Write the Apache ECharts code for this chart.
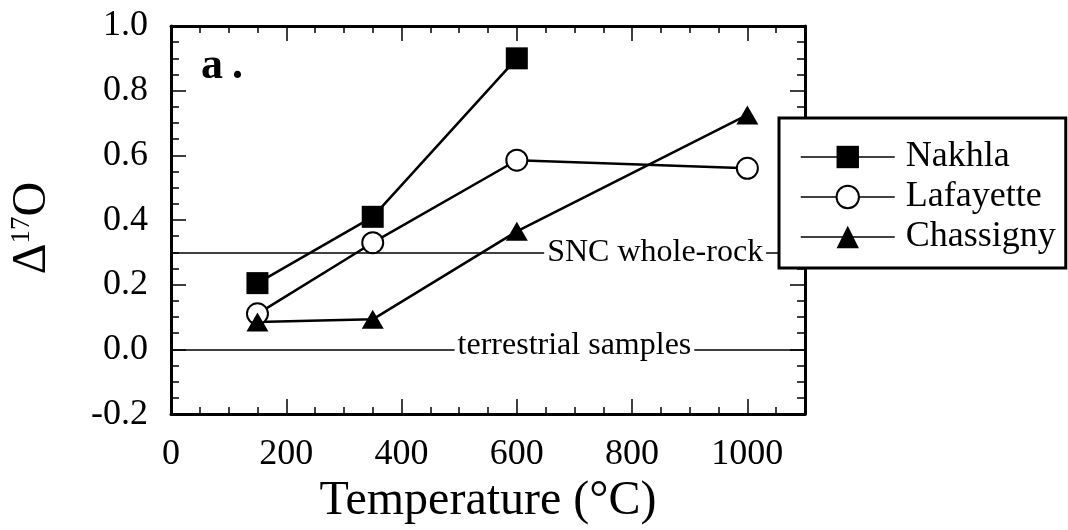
<!DOCTYPE html>
<html><head><meta charset="utf-8">
<script src="https://cdn.jsdelivr.net/npm/echarts@6/dist/echarts.min.js"></script>
<style>html,body{margin:0;padding:0;background:#fff}#c{width:1068px;height:530px}</style>
</head><body><div id="c"></div>
<script>
// ---- data ----
const temps = [150, 350, 600, 1000];
const nakhla = [0.205, 0.41, 0.90];
const lafayette = [0.11, 0.33, 0.585, 0.56];
const chassigny = [0.085, 0.093, 0.365, 0.725];
const seriesNames = ['Nakhla', 'Lafayette', 'Chassigny'];
const refLines = [0.3, 0.0];
const refLabels = ['SNC whole-rock', 'terrestrial samples'];
const refLabelX = [840, 700];
const xTickValues = [0, 200, 400, 600, 800, 1000];
const yTickLabels = ['-0.2', '0.0', '0.2', '0.4', '0.6', '0.8', '1.0'];

const F = '"Liberation Serif","Times New Roman",serif';
const pair = (xs, ys) => ys.map((y, i) => [xs[i], y]);
const BLACK = '#000';

function xAx(pos, interval, len, line, extra) {
  return Object.assign({
    type: 'value', position: pos, min: 0, max: 1100, interval: interval,
    axisLine: { show: line, onZero: false, lineStyle: { color: BLACK, width: 3 } },
    axisTick: { show: true, inside: true, length: len, lineStyle: { color: BLACK, width: 1.5 } },
    axisLabel: { show: false },
    splitLine: { show: false }
  }, extra || {});
}
function yAx(pos, interval, len, line, extra) {
  return Object.assign({
    type: 'value', position: pos, min: -0.2, max: 1.0, interval: interval,
    axisLine: { show: line, onZero: false, lineStyle: { color: BLACK, width: 3 } },
    axisTick: { show: true, inside: true, length: len, lineStyle: { color: BLACK, width: 1.5 } },
    axisLabel: { show: false },
    splitLine: { show: false }
  }, extra || {});
}

const chart = echarts.init(document.getElementById('c'), null, { renderer: 'canvas' });
const option = {
  animation: false,
  backgroundColor: '#fff',
  grid: { left: 168, top: 26, right: 263, bottom: 115 },
  xAxis: [
    xAx('bottom', 200, 15, true, {
      axisLabel: { show: true, margin: 22, fontFamily: F, fontSize: 36, color: BLACK,
        formatter: v => (xTickValues.indexOf(v) >= 0 ? String(v) : '') },
      name: 'Temperature (°C)', nameLocation: 'middle', nameGap: 52,
      nameTextStyle: { fontFamily: F, fontSize: 48, color: BLACK }
    }),
    xAx('bottom', 50, 7, false),
    xAx('top', 200, 15, true),
    xAx('top', 50, 7, false)
  ],
  yAxis: [
    yAx('left', 0.2, 15, true, {
      axisLabel: { show: true, margin: 23, fontFamily: F, fontSize: 36, color: BLACK, padding: [0, 0, 10, 0],
        formatter: v => { const i = Math.round((v + 0.2) / 0.2); return yTickLabels[i] || ''; } },
      name: '{d|Δ}{s|17}{o|O}', nameLocation: 'middle', nameRotate: 90, nameGap: 115,
      nameTextStyle: { fontFamily: F, color: BLACK, padding: [0, 16, 0, 0],
        rich: {
          d: { fontFamily: F, fontSize: 48, color: BLACK, lineHeight: 48 },
          s: { fontFamily: F, fontSize: 27, color: BLACK, verticalAlign: 'top', lineHeight: 30 },
          o: { fontFamily: F, fontSize: 48, color: BLACK, lineHeight: 48 }
        } }
    }),
    yAx('left', 0.05, 8, false),
    yAx('right', 0.2, 15, true),
    yAx('right', 0.05, 8, false)
  ],
  legend: {
    orient: 'vertical', left: 779, top: 118, padding: [21, 10, 13, 21],
    backgroundColor: '#fff', borderColor: BLACK, borderWidth: 3,
    itemWidth: 94, itemHeight: 28, itemGap: 4, z: 10,
    textStyle: { fontFamily: F, fontSize: 36, color: BLACK, lineHeight: 36, padding: [0, 0, 0, 6] },
    lineStyle: { width: 1.5, color: BLACK },
    data: seriesNames
  },
  graphic: [{
    type: 'text', left: 201, top: 45, z: 10,
    style: { text: '{a|a}{p|.}', rich: {
      a: { fontFamily: F, fontWeight: 'bold', fontSize: 44, fill: BLACK },
      p: { fontFamily: F, fontWeight: 'bold', fontSize: 44, fill: BLACK, padding: [0, 0, 0, 9] }
    } }
  }],
  series: [
    { name: 'ref', type: 'line', data: [], xAxisIndex: 0, yAxisIndex: 0, z: 1,
      markLine: { silent: true, symbol: 'none', label: { show: false },
        lineStyle: { color: BLACK, width: 1.5, type: 'solid' },
        data: refLines.map(v => ({ yAxis: v })) },
      markPoint: { silent: true, symbol: 'circle', symbolSize: 0,
        label: { show: true, position: 'inside', formatter: p => p.name, fontFamily: F, fontSize: 32, color: BLACK,
          backgroundColor: '#fff', padding: [0, 3] },
        data: refLabels.map((t, i) => ({ name: t, coord: [refLabelX[i], refLines[i]],
          label: { offset: [0, i === 1 ? -4 : 0] } })) } },
    { name: seriesNames[0], type: 'line', data: pair(temps, nakhla), xAxisIndex: 0, yAxisIndex: 0, z: 3,
      symbol: 'rect', symbolSize: 22, itemStyle: { color: BLACK }, lineStyle: { color: BLACK, width: 2.5 } },
    { name: seriesNames[1], type: 'line', data: pair(temps, lafayette), xAxisIndex: 0, yAxisIndex: 0, z: 3,
      symbol: 'circle', symbolSize: 21, itemStyle: { color: '#fff', borderColor: BLACK, borderWidth: 2 },
      lineStyle: { color: BLACK, width: 2.5 } },
    { name: seriesNames[2], type: 'line', data: pair(temps, chassigny), xAxisIndex: 0, yAxisIndex: 0, z: 3,
      symbol: 'triangle', symbolSize: [22, 19], itemStyle: { color: BLACK }, lineStyle: { color: BLACK, width: 2.5 } }
  ]
};
chart.setOption(option);
</script>
</body></html>
